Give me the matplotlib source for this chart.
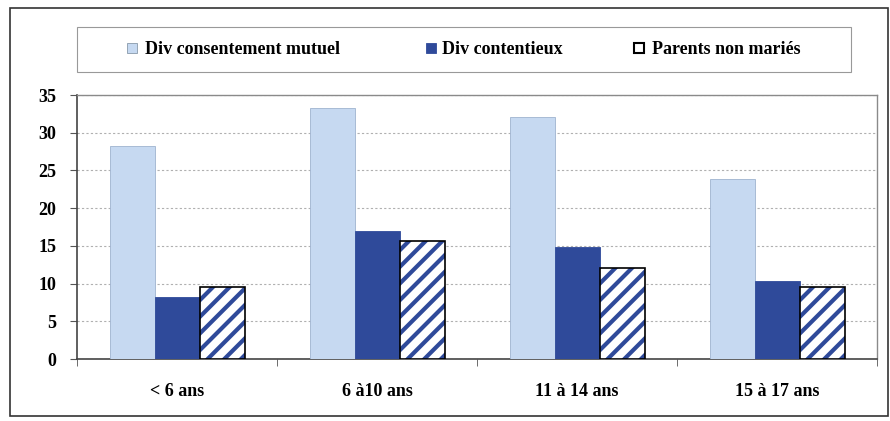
import matplotlib.pyplot as plt
from matplotlib.patches import Rectangle
import numpy as np

# Data
categories = ['< 6 ans', '6 à10 ans', '11 à 14 ans', '15 à 17 ans']
series_names = ['Div consentement mutuel', 'Div contentieux', 'Parents non mariés']
mutuel = [28.3, 33.3, 32.1, 23.9]
contentieux = [8.2, 17.0, 14.9, 10.4]
non_maries = [9.5, 15.6, 12.0, 9.6]

light = '#c6d9f1'
dark = '#2f4a9a'
W, H = 890, 421
serif = ['Liberation Serif', 'DejaVu Serif']
fs = 13

plt.rcParams['font.family'] = serif
plt.rcParams['font.weight'] = 'bold'
plt.rcParams['hatch.linewidth'] = 3.0

fig = plt.figure(figsize=(8.9, 4.21), dpi=100)
ax = fig.add_axes([77 / W, 1 - 359 / H, 800 / W, 264 / H])

x = np.arange(len(categories))
w = 0.225

ax.bar(x - w, mutuel, w, color=light, edgecolor='#9fb3cf', linewidth=0.6, zorder=3)
ax.bar(x, contentieux, w, color=dark, edgecolor=dark, linewidth=0.6, zorder=3)
# hatched bars: blue stripes, black outline drawn on top
ax.bar(x + w, non_maries, w, color='white', edgecolor=dark, hatch='//', linewidth=0, zorder=3)
ax.bar(x + w, non_maries, w, fill=False, edgecolor='black', linewidth=1.2, zorder=4)

ax.set_xlim(-0.5, 3.5)
ax.set_ylim(0, 35)
ax.set_yticks(range(0, 36, 5))
ax.set_xticks(x)
ax.set_xticklabels(categories)
ax.set_xticks(np.arange(-0.5, 4, 1), minor=True)
ax.tick_params(axis='x', which='major', length=0, pad=17, labelsize=fs)
ax.tick_params(axis='x', which='minor', length=5, direction='out', color='#555555')
ax.tick_params(axis='y', length=5, direction='out', color='#555555', labelsize=fs, pad=10)

ax.yaxis.grid(True, linestyle=(0, (2, 2)), color='#b0b0b0', linewidth=0.8, zorder=0)
ax.set_axisbelow(True)
for side in ['left', 'bottom']:
    ax.spines[side].set_color('#444444')
    ax.spines[side].set_linewidth(1.2)
for side in ['top', 'right']:
    ax.spines[side].set_color('#8a8a8a')
    ax.spines[side].set_linewidth(1.0)

# outer frame
fig.patches.append(Rectangle((10 / W, 5 / H), 878 / W, 408 / H,
                             transform=fig.transFigure, fill=False,
                             edgecolor='#333333', linewidth=1.2))
# legend box
fig.patches.append(Rectangle((77 / W, 1 - 72 / H), 774 / W, 45 / H,
                             transform=fig.transFigure, fill=False,
                             edgecolor='#999999', linewidth=0.8))

# legend entries, placed by hand like the original
marker_x = [127, 426, 634]
text_x = [145, 442, 652]
faces = [light, dark, 'white']
edges = ['#8899aa', dark, 'black']
lws = [0.6, 0.6, 1.5]
for mx, tx, fc, ec, lw, name in zip(marker_x, text_x, faces, edges, lws, series_names):
    fig.patches.append(Rectangle((mx / W, 1 - 53 / H), 10 / W, 10 / H,
                                 transform=fig.transFigure, facecolor=fc,
                                 edgecolor=ec, linewidth=lw))
    fig.text(tx / W, 1 - 48 / H, name, fontsize=fs, ha='left', va='center_baseline')

fig.savefig('out.png', dpi=100)
